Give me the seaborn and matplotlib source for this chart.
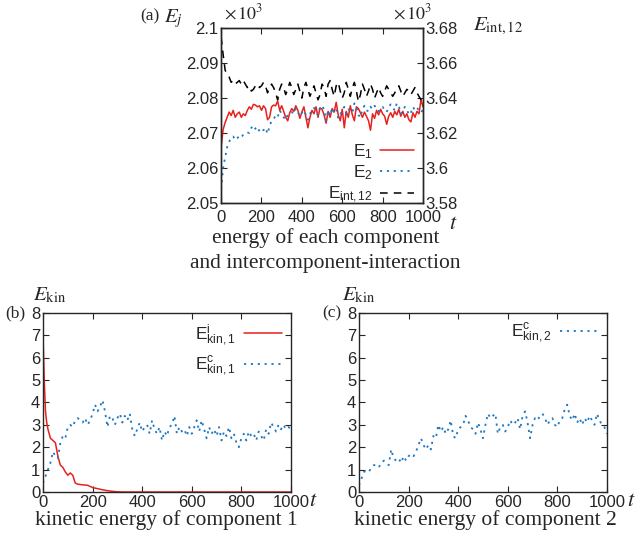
import numpy as np
import pandas as pd
import matplotlib
matplotlib.use('Agg')
import matplotlib.pyplot as plt
import seaborn as sns
from matplotlib.ticker import FuncFormatter

# ---------------- data ----------------
t_top = list(range(0, 1001, 10))

# E_1, E_2 on left axis (x10^3)
e1 = [2.066, 2.071, 2.073, 2.0745, 2.076, 2.075, 2.0765, 2.0745, 2.0755, 2.076,
      2.0745, 2.0755, 2.075, 2.0765, 2.0775, 2.0768, 2.0782, 2.078, 2.0775, 2.0778,
      2.0765, 2.0778, 2.077, 2.0738, 2.0745, 2.0775, 2.078, 2.0778, 2.0792, 2.0765,
      2.0778, 2.0762, 2.0745, 2.0735, 2.0758, 2.077, 2.0762, 2.0778, 2.0765, 2.0742,
      2.076, 2.0775, 2.0745, 2.0715, 2.0745, 2.0765, 2.0755, 2.0775, 2.0745, 2.0772,
      2.0768, 2.0752, 2.0728, 2.0762, 2.0745, 2.077, 2.076, 2.0788, 2.0752, 2.0735,
      2.0768, 2.0715, 2.0762, 2.0745, 2.0778, 2.0752, 2.0735, 2.0775, 2.077, 2.0758,
      2.0745, 2.076, 2.0748, 2.0735, 2.0708, 2.0755, 2.0742, 2.0765, 2.0752, 2.0768,
      2.0755, 2.0748, 2.0725, 2.0748, 2.0758, 2.0745, 2.0762, 2.0752, 2.0768, 2.0748,
      2.0762, 2.0745, 2.0755, 2.0738, 2.0732, 2.0758, 2.0745, 2.0762, 2.0755, 2.0795,
      2.0775]
e2 = [2.054, 2.060, 2.063, 2.066, 2.0675, 2.0688, 2.069, 2.068, 2.0685, 2.0692,
      2.0688, 2.0695, 2.0698, 2.0702, 2.070, 2.0715, 2.0722, 2.0712, 2.0718, 2.0705,
      2.0712, 2.0708, 2.0715, 2.0698, 2.072, 2.0735, 2.074, 2.075, 2.0745, 2.0765,
      2.0755, 2.0745, 2.0738, 2.0752, 2.0758, 2.076, 2.0755, 2.077, 2.076, 2.0748,
      2.0758, 2.0765, 2.0752, 2.0738, 2.0755, 2.0765, 2.0772, 2.076, 2.0752, 2.0775,
      2.0778, 2.0768, 2.0735, 2.0765, 2.075, 2.0772, 2.0758, 2.0768, 2.0742, 2.0752,
      2.0765, 2.0775, 2.0755, 2.0768, 2.0762, 2.0758, 2.0785, 2.0775, 2.0752, 2.0745,
      2.0768, 2.0778, 2.0765, 2.0762, 2.0775, 2.0768, 2.0778, 2.0772, 2.0762, 2.077,
      2.0775, 2.0765, 2.076, 2.0775, 2.0782, 2.0772, 2.0765, 2.0785, 2.0778, 2.0755,
      2.0762, 2.0775, 2.0768, 2.0752, 2.0758, 2.0775, 2.0765, 2.0772, 2.0765, 2.0758,
      2.0768]
# E_int,12 on right axis (x10^3)
eint = [3.675, 3.665, 3.656, 3.653, 3.652, 3.649, 3.650, 3.648, 3.649, 3.650,
        3.648, 3.650, 3.648, 3.646, 3.647, 3.644, 3.645, 3.647, 3.648, 3.646,
        3.647, 3.649, 3.647, 3.643, 3.646, 3.648, 3.646, 3.643, 3.639, 3.645,
        3.648, 3.646, 3.642, 3.645, 3.649, 3.646, 3.642, 3.645, 3.648, 3.644,
        3.640, 3.646, 3.649, 3.645, 3.641, 3.644, 3.647, 3.643, 3.639, 3.642,
        3.648, 3.646, 3.641, 3.648, 3.650, 3.645, 3.641, 3.647, 3.649, 3.644,
        3.640, 3.643, 3.649, 3.645, 3.641, 3.646, 3.649, 3.644, 3.638, 3.642,
        3.648, 3.645, 3.641, 3.644, 3.648, 3.645, 3.640, 3.643, 3.646, 3.643,
        3.641, 3.644, 3.647, 3.645, 3.643, 3.641, 3.643, 3.645, 3.647, 3.644,
        3.641, 3.643, 3.645, 3.644, 3.642, 3.644, 3.646, 3.643, 3.641, 3.639,
        3.640]

t_inc1 = [0, 5, 10, 15, 20, 30, 40, 50, 60, 70, 80, 90, 100, 110, 120, 130, 140,
          160, 180, 200, 220, 240, 260, 280, 300, 320, 350, 400, 500, 600, 700,
          800, 900, 1000]
ekin_i1 = [7.0, 5.0, 3.6, 3.1, 2.8, 2.4, 2.3, 2.2, 1.6, 1.2, 1.1, 0.9, 0.75, 0.85,
           0.75, 0.4, 0.35, 0.32, 0.3, 0.2, 0.15, 0.1, 0.06, 0.03, 0.01, 0.0, 0.0,
           0.0, 0.0, 0.0, 0.0, 0.0, 0.0, 0.0]

t_kin = list(range(0, 1001, 10))
ekin_c1 = [0.4, 0.7, 1.0, 1.3, 1.8, 1.6, 1.5, 2.2, 2.5, 2.4,
           2.9, 3.0, 2.9, 3.2, 3.3, 3.2, 3.1, 3.3, 3.0, 3.2,
           3.5, 3.9, 3.6, 3.8, 4.1, 3.6, 2.9, 3.4, 3.3, 3.0,
           3.3, 3.5, 3.1, 3.4, 3.2, 3.5, 2.8, 2.5, 2.8, 3.1,
           2.7, 2.9, 3.0, 2.6, 3.2, 2.8, 2.6, 2.9, 2.3, 2.7,
           2.5, 2.9, 3.0, 3.4, 2.6, 2.9, 2.7, 2.8, 2.5, 2.9,
           2.6, 2.9, 3.2, 2.7, 3.2, 2.8, 2.4, 2.9, 2.6, 2.8,
           2.5, 2.9, 2.3, 2.7, 2.5, 2.9, 2.4, 2.6, 2.2, 2.0,
           2.4, 2.6, 2.3, 2.7, 2.5, 2.6, 2.3, 2.7, 2.5, 2.3,
           2.8, 2.6, 3.1, 2.9, 2.7, 3.0, 2.8, 3.0, 2.8, 2.9,
           2.8]
ekin_c2 = [0.3, 0.6, 0.9, 0.95, 0.9, 1.1, 1.2, 1.2, 1.1, 1.3,
           1.4, 1.3, 1.2, 1.9, 1.5, 1.4, 1.5, 1.3, 1.6, 1.4,
           1.6, 1.7, 1.6, 1.8, 2.1, 2.4, 2.1, 1.9, 2.1, 1.9,
           2.5, 2.4, 3.0, 2.7, 2.9, 2.6, 2.8, 3.2, 2.5, 2.4,
           2.8, 2.9, 3.0, 3.4, 3.2, 2.9, 2.8, 2.6, 3.1, 2.8,
           2.4, 3.0, 3.5, 3.3, 3.4, 3.5, 2.6, 2.9, 3.0, 2.7,
           2.9, 3.2, 3.0, 3.1, 3.3, 2.8, 3.4, 3.6, 3.1, 2.4,
           3.0, 3.3, 3.2, 3.4, 3.5, 3.3, 3.0, 3.2, 3.3, 3.0,
           2.9, 3.2, 3.3, 3.7, 3.9, 3.4, 3.2, 3.5, 3.1, 3.3,
           3.0, 3.3, 3.1, 3.4, 3.2, 3.0, 3.5, 3.2, 3.0, 2.9,
           2.6]

# ---------------- style ----------------
sns.set_style('ticks')
plt.rcParams['font.family'] = ['Liberation Sans', 'DejaVu Sans']
plt.rcParams['mathtext.fontset'] = 'stix'
plt.rcParams['xtick.direction'] = 'in'
plt.rcParams['ytick.direction'] = 'in'
plt.rcParams['axes.linewidth'] = 1.0

RED = '#e8211d'
BLUE = '#1f78c0'
SERIF = 'Liberation Serif'
TICK = 12
LEG = 12.5
CAP = 15.5

fmt = FuncFormatter(lambda v, p: f'{v:g}')

fig = plt.figure(figsize=(6.39, 5.38), dpi=100)

# ---------------- (a) ----------------
ax = fig.add_axes([0.346, 0.6227, 0.316, 0.325])
ax2 = ax.twinx()
df_top = pd.DataFrame({'t': t_top, 'e1': e1, 'e2': e2, 'eint': eint})
sns.lineplot(data=df_top, x='t', y='e1', ax=ax, color=RED, lw=1.1,
             label=r'$\mathregular{E_1}$', legend=False)
sns.lineplot(data=df_top, x='t', y='e2', ax=ax, color=BLUE, lw=1.3,
             label=r'$\mathregular{E_2}$', legend=False)
ax.lines[1].set_dashes((1.2, 2.6))
sns.lineplot(data=df_top, x='t', y='eint', ax=ax2, color='black', lw=1.1,
             label=r'$\mathregular{E_{int,12}}$', legend=False)
ax2.lines[0].set_dashes((5, 4))

ax.set_xlim(0, 1000)
ax.set_ylim(2.05, 2.1)
ax2.set_ylim(3.58, 3.68)
ax.set_xticks([0, 200, 400, 600, 800, 1000])
ax.set_yticks([2.05, 2.06, 2.07, 2.08, 2.09, 2.1])
ax2.set_yticks([3.58, 3.6, 3.62, 3.64, 3.66, 3.68])
ax.yaxis.set_major_formatter(fmt)
ax2.yaxis.set_major_formatter(fmt)
ax.set_xlabel('')
ax.set_ylabel('')
ax2.set_ylabel('')
ax.tick_params(axis='y', labelsize=TICK, pad=2, length=4)
ax.tick_params(axis='x', top=True, labelsize=TICK, pad=5, length=4)
ax2.tick_params(labelsize=TICK, pad=2, length=4)

handles = ax.lines[:2] + ax2.lines[:1]
ax2.legend(handles, [h.get_label() for h in handles], loc='lower right',
           bbox_to_anchor=(1.0, -0.06),
           frameon=False, markerfirst=False, fontsize=LEG, handlelength=2.0,
           handletextpad=0.4, borderaxespad=0.1, labelspacing=0.15)

fig.text(0.351, 0.975, r'$\times\,10^3$', fontsize=13, family=SERIF, ha='left', va='center')
fig.text(0.615, 0.975, r'$\times\,10^3$', fontsize=13, family=SERIF, ha='left', va='center')
fig.text(0.219, 0.969, '(a)', fontsize=12.5, family=SERIF, ha='left', va='center')
fig.text(0.257, 0.966, r'$E_j$', fontsize=15, ha='left', va='center')
fig.text(0.740, 0.951, r'$E_{\rm int,12}$', fontsize=15, ha='left', va='center')
fig.text(0.703, 0.584, r'$t$', fontsize=16, ha='left', va='center')
fig.text(0.509, 0.557, 'energy of each component', fontsize=CAP, family=SERIF,
         ha='center', va='center')
fig.text(0.509, 0.51, 'and intercomponent-interaction', fontsize=CAP, family=SERIF,
         ha='center', va='center')

# ---------------- (b) and (c) ----------------
df_i1 = pd.DataFrame({'t': t_inc1, 'v': ekin_i1})
df_kin = pd.DataFrame({'t': t_kin, 'c1': ekin_c1, 'c2': ekin_c2})

axb = fig.add_axes([0.0673, 0.0855, 0.388, 0.333])
axc = fig.add_axes([0.5618, 0.0855, 0.388, 0.333])

sns.lineplot(data=df_i1, x='t', y='v', ax=axb, color=RED, lw=1.1,
             label=r'$\mathregular{E^{i}_{kin,1}}$', legend=False)
sns.lineplot(data=df_kin, x='t', y='c1', ax=axb, color=BLUE, lw=1.3,
             label=r'$\mathregular{E^{c}_{kin,1}}$', legend=False)
axb.lines[1].set_dashes((1.2, 2.6))
sns.lineplot(data=df_kin, x='t', y='c2', ax=axc, color=BLUE, lw=1.3,
             label=r'$\mathregular{E^{c}_{kin,2}}$', legend=False)
axc.lines[0].set_dashes((1.2, 2.6))

for a in (axb, axc):
    a.set_xlim(0, 1000)
    a.set_ylim(0, 8)
    a.set_xticks([0, 200, 400, 600, 800, 1000])
    a.set_yticks(range(0, 9))
    a.set_xlabel('')
    a.set_ylabel('')
    a.tick_params(top=True, right=True, labelsize=TICK, pad=2, length=4)
    a.legend(loc='upper right', frameon=False, markerfirst=False, fontsize=LEG,
             handlelength=2.2, handletextpad=0.5, borderaxespad=0.1, labelspacing=0.4)

fig.text(0.052, 0.452, r'$E_{\rm kin}$', fontsize=15, ha='left', va='center')
fig.text(0.008, 0.418, '(b)', fontsize=12.5, family=SERIF, ha='left', va='center')
fig.text(0.484, 0.069, r'$t$', fontsize=16, ha='left', va='center')
fig.text(0.26, 0.034, 'kinetic energy of component 1', fontsize=CAP, family=SERIF,
         ha='center', va='center')

fig.text(0.535, 0.452, r'$E_{\rm kin}$', fontsize=15, ha='left', va='center')
fig.text(0.505, 0.418, '(c)', fontsize=12.5, family=SERIF, ha='left', va='center')
fig.text(0.982, 0.069, r'$t$', fontsize=16, ha='left', va='center')
fig.text(0.759, 0.034, 'kinetic energy of component 2', fontsize=CAP, family=SERIF,
         ha='center', va='center')

fig.savefig('out.png', dpi=100)
